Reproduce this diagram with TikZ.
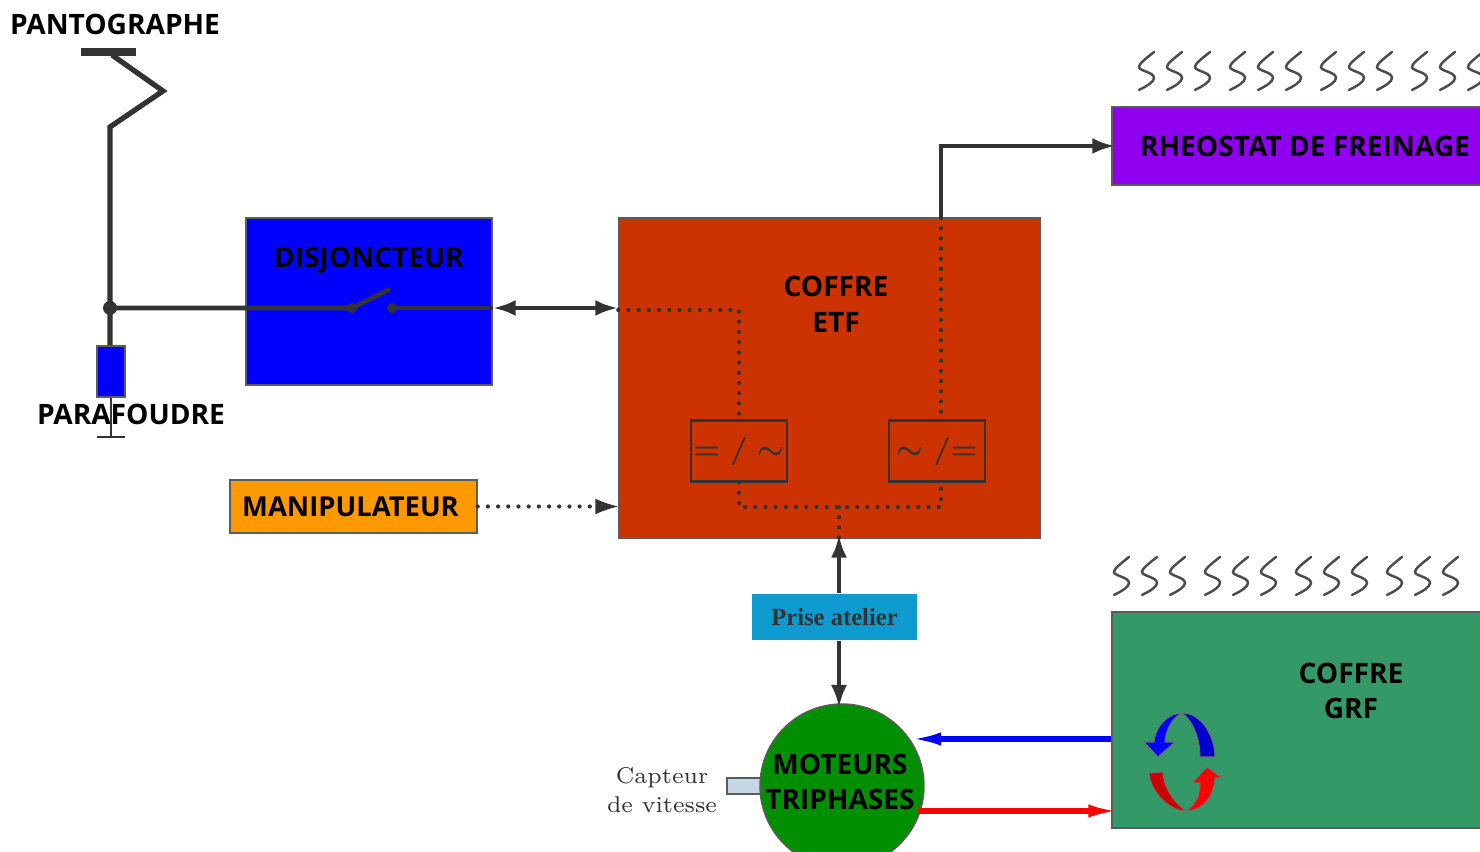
\documentclass[tikz,border=0pt]{standalone}
\usepackage{fontspec}
\newfontfamily\labelfont{Open Sans}
\newfontfamily\prisefont{Liberation Serif}
\usetikzlibrary{arrows.meta,positioning,calc}
\definecolor{linegrey}{HTML}{333333}
\definecolor{etfred}{HTML}{CC3300}
\definecolor{rheoviolet}{HTML}{8F00F0}
\definecolor{manipor}{HTML}{FF9900}
\definecolor{priseblue}{HTML}{0F9BCF}
\definecolor{grfgreen}{HTML}{339966}
\definecolor{motgreen}{HTML}{008F00}
\definecolor{capblue}{HTML}{C5D8E6}
\begin{document}
\begin{tikzpicture}[
  font=\fontsize{8}{10.2}\selectfont\labelfont\bfseries,
  block/.style={draw=linegrey!80, line width=0.4pt, align=center, inner sep=0pt},
  conv/.style={draw=linegrey, line width=0.6pt, minimum width=0.96cm, minimum height=0.61cm, inner sep=0pt,
               text=linegrey, font=\fontsize{8.5}{10}\selectfont\boldmath},
  txt/.style={align=center, inner sep=0pt},
  wire/.style={draw=linegrey, line width=1.3pt},
  thin wire/.style={draw=linegrey, line width=0.5pt},
  arrow/.style={wire, -{Latex[length=2.3mm,width=1.6mm]}, shorten >=-0.4mm},
  darrow/.style={wire, {Latex[length=2.3mm,width=1.6mm]}-{Latex[length=2.3mm,width=1.6mm]}},
  dots/.style={draw=linegrey, line width=1.2pt, line cap=round, dash pattern=on 0pt off 2.9pt},
  heat/.style={draw=black!70, line width=0.7pt, line cap=round},
  swirl/.style={draw=linegrey!70, line width=0.3pt},
  flow/.style={-{Latex[length=3.2mm,width=1.3mm]}, line width=1.5pt, shorten >=-0.9mm}
]
\useasboundingbox (0,0) rectangle (14.8,8.52);
% blocks
\node[block, fill=blue, minimum width=2.46cm, minimum height=1.67cm] (disj) at (3.69,5.505) {};
\node[block, fill=etfred, minimum width=4.21cm, minimum height=3.2cm] (etf) at (8.295,4.74) {};
\node[block, fill=rheoviolet, minimum width=3.86cm, minimum height=0.78cm] (rheo) at (13.05,7.06) {RHEOSTAT DE FREINAGE};
\node[block, fill=manipor, minimum width=2.47cm, minimum height=0.53cm, font=\fontsize{7.8}{10}\selectfont\labelfont\bfseries] (manip) at (3.535,3.455) {\hspace*{-0.06cm}MANIPULATEUR};
\node[block, draw=none, fill=priseblue, minimum width=1.65cm, minimum height=0.46cm, text=linegrey,
      font=\fontsize{7}{8}\selectfont\prisefont\bfseries] (prise) at (8.345,2.35) {Prise atelier};
\node[block, fill=grfgreen, minimum width=3.86cm, minimum height=2.16cm] (grf) at (13.05,1.32) {};
\node[block, fill=blue, minimum width=0.28cm, minimum height=0.51cm] (para) at (1.11,4.805) {};
\node[block, draw=linegrey!80, line width=0.6pt, fill=capblue, minimum width=0.4cm, minimum height=0.16cm] (capt) at (7.47,0.66) {};
\node[block, circle, fill=motgreen, minimum size=1.64cm] (mot) at (8.42,0.66) {};
\node[conv] (conva) at (7.39,4.01) {\(=\) \(/\) \(\sim\)};
\node[conv] (convb) at (9.37,4.01) {\(\sim\) \(/{=}\)};
% labels
\node[txt] (panto) at (1.15,8.28) {PANTOGRAPHE};
\node[txt] (disjt) at (3.69,5.92) {DISJONCTEUR};
\node[txt] (etft) at (8.36,5.48) {COFFRE\\ETF};
\node[txt] (grft) at (13.51,1.61) {COFFRE\\GRF};
\node[txt] (mott) at (8.4,0.7) {MOTEURS\\TRIPHASES};
\node[txt, text=linegrey, font=\fontsize{6.5}{8.4}\selectfont\rmfamily] (captt) at (6.62,0.62) {Capteur\\de vitesse};
% pantograph
\coordinate (bara) at (0.81,8.00);
\coordinate (barb) at (1.36,8.00);
\coordinate (kneea) at (1.12,7.97);
\coordinate (kneeb) at (1.63,7.61);
\coordinate (kneec) at (1.10,7.25);
\coordinate (jct) at (1.10,5.44);
\coordinate (swa) at (3.52,5.44);
\coordinate (swb) at (3.92,5.44);
\coordinate (blade) at (3.90,5.63);
\coordinate (earth) at (1.11,4.15);
\draw[wire, line width=2.3pt] (bara) -- (barb);
\draw[wire, line width=1.5pt, line join=miter] (kneea) -- (kneeb) -- (kneec) -- (jct) -- (para.north -| jct);
\fill[linegrey] (jct) circle (0.07);
\fill[linegrey] (swa) circle (0.05);
\fill[linegrey] (swb) circle (0.05);
\draw[wire] (jct) -- (swa) -- (blade);
\draw[wire] (swb) -- (disj.east |- swb);
\draw[thin wire] (para.south) -- (earth);
\draw[thin wire] (0.97,4.15) -- (1.25,4.15);
\node[txt] (parat) at (1.31,4.38) {PARAFOUDRE};
% links between the blocks
\draw[darrow] (disj.east |- swb) -- (etf.west |- swb);
\draw[arrow] (9.41,6.34) |- (rheo.west);
\draw[dots] (manip.east) -- (5.98,3.455);
\draw[-{Latex[length=2.3mm,width=1.6mm]}, linegrey, line width=0.5pt] (5.96,3.455) -- (etf.west |- manip.east);
\draw[arrow] (prise.north -| 8.39,0) -- (etf.south -| 8.39,0);
\draw[arrow] (prise.south -| 8.39,0) -- (8.39,1.48);
\draw[flow, draw=blue] (grf.west |- 0,1.13) -- (9.18,1.13);
\draw[flow, draw=red] (9.18,0.41) -- (grf.west |- 0,0.41);
% dotted links inside ETF
\draw[dots] (etf.west |- 0,5.42) -| (conva.north);
\draw[dots] (9.41,6.34) -- (9.41,4.32);
\draw[dots] (conva.south) |- (9.41,3.45) -- (9.41,3.70);
\draw[dots] (8.39,3.45) -- (etf.south -| 8.39,0);
% heat
\foreach \gx/\gy in {11.39/8.00, 11.14/2.95} {
  \foreach \i in {0,1,2,3} \foreach \j in {0,1,2} {
    \draw[heat, shift={(\gx+\i*0.91+\j*0.28,\gy)}]
      (0.15,0) .. controls (0.05,-0.08) and (0,-0.12) .. (0,-0.15)
      .. controls (0,-0.19) and (0.15,-0.2) .. (0.15,-0.26)
      .. controls (0.15,-0.3) and (0.08,-0.34) .. (0,-0.38);
  }
}
% arrows of the GRF
\draw[swirl, fill=blue!80!black] (11.82,1.39) .. controls (12.02,1.39) and (12.15,1.15) .. (12.15,0.95)
  -- (12.00,0.95) .. controls (12.00,1.15) and (11.92,1.32) .. (11.82,1.39) -- cycle;
\draw[swirl, fill=blue] (11.82,1.39) .. controls (11.68,1.39) and (11.55,1.25) .. (11.54,1.10)
  -- (11.44,1.10) -- (11.58,0.95) -- (11.75,1.10) -- (11.65,1.10) .. controls (11.66,1.25) and (11.74,1.35) .. (11.82,1.39) -- cycle;
\draw[swirl, fill=red!80!black] (11.86,0.41) .. controls (11.68,0.41) and (11.50,0.62) .. (11.49,0.79)
  -- (11.63,0.80) .. controls (11.64,0.62) and (11.76,0.48) .. (11.86,0.41) -- cycle;
\draw[swirl, fill=red] (11.86,0.41) .. controls (12.02,0.41) and (12.14,0.55) .. (12.15,0.74)
  -- (12.22,0.74) -- (12.07,0.85) -- (11.92,0.69) -- (12.00,0.69) .. controls (12.00,0.55) and (11.94,0.46) .. (11.86,0.41) -- cycle;
\end{tikzpicture}
\end{document}
